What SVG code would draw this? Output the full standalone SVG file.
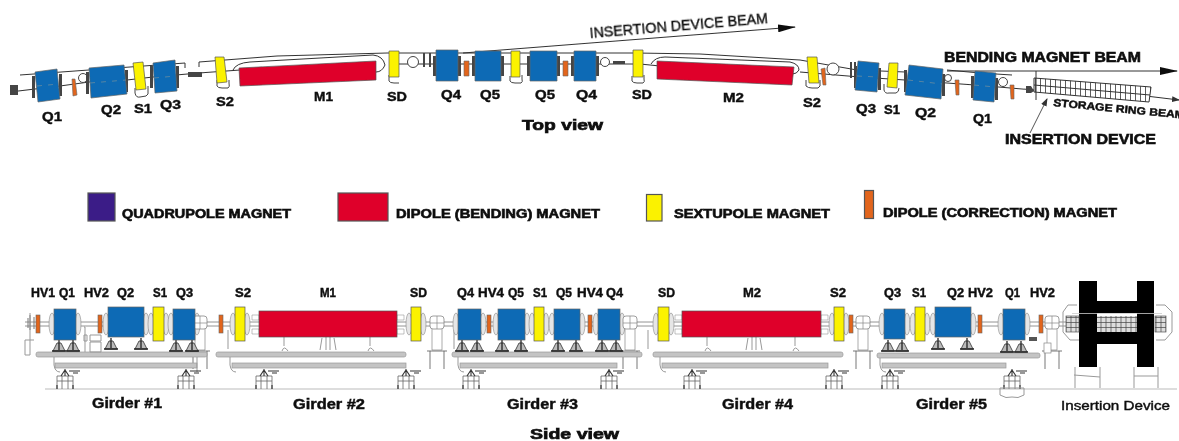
<svg xmlns="http://www.w3.org/2000/svg" width="1179" height="441" viewBox="0 0 1179 441">
<style>
text{font-family:"Liberation Sans",Arial,sans-serif;font-weight:700;fill:#111;stroke:#111;stroke-width:.45}
.l{font-size:13.500px}.s{font-size:12.500px}.g{font-size:14px}.h{font-size:12px;stroke-width:.6}.v{font-size:14.500px;stroke-width:.7}
.q{fill:#0a6bb5;stroke:#666;stroke-width:.7}.d{fill:#df0029;stroke:#555;stroke-width:.7}.y{fill:#fbf200;stroke:#555;stroke-width:.7}.o{fill:#e2651c;stroke:#666;stroke-width:.6}
.t{fill:none;stroke:#333;stroke-width:1}.m{fill:none;stroke:#999;stroke-width:1}.b{fill:none;stroke:#333;stroke-width:1.1}
.gb{fill:#c4c4c4;stroke:#999;stroke-width:.7}.p{fill:#fff;stroke:#444;stroke-width:1}.c{fill:#444}
.cl{fill:none;stroke:#6c8aa0;stroke-width:.8;stroke-dasharray:5 6}
</style>
<defs>
<marker id="ah" markerWidth="18" markerHeight="8" refX="17" refY="4" orient="auto" markerUnits="userSpaceOnUse"><path d="M0 0L18 4L0 8Z" fill="#111"/></marker>
<marker id="as" markerWidth="8" markerHeight="8" refX="7" refY="3" orient="auto" markerUnits="userSpaceOnUse"><path d="M0 0L8 3L0 6Z" fill="#333"/></marker>
<pattern id="hatch" width="5" height="6" patternUnits="userSpaceOnUse"><rect width="5" height="6" fill="#fff"/><path d="M.5 0V6" stroke="#333" stroke-width=".8"/></pattern>
<pattern id="idh" width="5" height="5" patternUnits="userSpaceOnUse"><rect width="5" height="5" fill="#ddd"/><path d="M1 0V5M0 2.500H5" stroke="#444" stroke-width=".7"/></pattern>
<filter id="soft" x="-2%" y="-2%" width="104%" height="104%"><feGaussianBlur stdDeviation=".3"/></filter>
<g id="jack"><path d="M-6 11L-2 3H2L6 11Z" fill="#bbb" stroke="#444" stroke-width=".9"/><path d="M-7 11H7M0 0V10" stroke="#222" stroke-width="1.300"/></g>
<g id="foot"><path d="M-8 20V7H8V20M-3 20V7M3 20V7M-8 12H8" fill="none" stroke="#666" stroke-width=".8"/><path d="M-8 16V20M8 16V20M0 0V7M-4 7L0 1L4 7" fill="none" stroke="#333" stroke-width="1.100"/><path d="M4 2H15M8 4H13" stroke="#333" stroke-width="1.100"/></g>
<g id="flange"><ellipse cx="0" cy="0" rx="3" ry="11" fill="#e6e6e6" stroke="#888" stroke-width=".6"/></g>
<g id="pump"><rect x="-7" y="-7" width="14" height="13" rx="3" fill="#fff" stroke="#777" stroke-width=".7"/><path d="M-7 0H7M0 -7V6M-5 6V27H5V6" fill="none" stroke="#888" stroke-width=".7"/><path d="M-7 28V46M7 28V46M-10 28H10" stroke="#555" stroke-width=".8"/></g>
</defs>
<rect width="1179" height="441" fill="#fff"/>
<g filter="url(#soft)">
<g id="connectors">
<path class="t" d="M463 53L795 27" marker-end="url(#ah)"/>
<path class="t" d="M947 71H1177" marker-end="url(#ah)"/>
<path class="t" d="M1146 96L1179 100" marker-end="url(#as)"/>
<path class="t" d="M1030 133L1047 99" marker-end="url(#as)" style="stroke:#555"/>
</g>
<g id="top-beamline">
<path class="b" d="M10 92L35 89L60 86L89 82L127 80L153 77L199 73L240 70M390 64L470 64L640 64L660 66M800 72L860 77L905 80L975 85L1034 90"/>
<path class="t" d="M20 75L185 63V68M199 67V62L277 56L387 53H636L700 54L800 60L857 70L905 72M947 70L980 73L1012 75"/>
<path class="t" d="M233 70Q236 63 250 62L373 55Q383 56 385 65Q382 72 376 72M651 64Q655 57 665 57L790 62Q799 64 799 70Q797 74 792 74"/>
<g fill="none" stroke="#444" stroke-width="1">
<path d="M135 88V93Q136 98 140 97L146 96Q149 95 148 90V86"/><path d="M217 80V86Q218 88 222 88H228Q230 87 229 83V80"/><path d="M389 75V81Q390 83 394 83H399"/><path d="M510 76V81Q511 83 515 83H521Q523 82 522 79V75"/><path d="M632 76V81Q633 83 637 83H643Q645 82 644 79V75"/><path d="M806 80V86Q808 88 812 88H818Q821 87 820 82V80"/><path d="M884 84V90Q885 94 889 93H896Q899 92 899 88"/>
</g>
<g class="p"><circle cx="83" cy="78" r="4.500"/><circle cx="413" cy="62" r="5.500"/><circle cx="605" cy="62" r="4.500"/><circle cx="833" cy="69" r="6"/><circle cx="948" cy="78" r="3.500"/><circle cx="1003" cy="82" r="4.500"/></g>
<g class="c"><path d="M10 85h8v10h-8zM188 72h14v5h-14zM423 53h2v14h-2zM429 53h2v14h-2zM1026 86h5l3 5-3 2h-5zM850 62h2v16h-2zM854 62h2v16h-2zM613 61h12v3h-12z"/>
<rect x="59" y="74" width="3" height="22"/><rect x="32" y="76" width="3" height="22"/><rect x="125" y="70" width="3" height="22"/><rect x="86" y="72" width="3" height="22"/><rect x="150" y="66" width="3" height="22"/><rect x="176" y="66" width="3" height="22"/><rect x="433" y="56" width="3" height="20"/><rect x="458" y="56" width="3" height="20"/><rect x="472" y="56" width="3" height="20"/><rect x="501" y="56" width="3" height="20"/><rect x="527" y="56" width="3" height="20"/><rect x="557" y="56" width="3" height="20"/><rect x="571" y="56" width="3" height="20"/><rect x="596" y="56" width="3" height="20"/><rect x="854" y="66" width="3" height="22"/><rect x="878" y="68" width="3" height="22"/><rect x="904" y="70" width="3" height="22"/><rect x="942" y="74" width="3" height="22"/><rect x="971" y="76" width="3" height="22"/><rect x="995" y="78" width="3" height="22"/></g>
</g>
<g id="top-Q1"><polygon class="q" points="35,72 57,69 60,99 38,102"/><path class="cl" d="M37 86L59 84"/></g>
<g id="top-HV1"><polygon class="o" points="72,79 75,79 77,95 73,96"/></g>
<g id="top-Q2"><polygon class="q" points="89,68 124,65 127,94 91,98"/><path class="cl" d="M90 83L126 80"/></g>
<g id="top-S1"><polygon class="y" points="133,63 143,62 146,89 136,90"/></g>
<g id="top-Q3"><polygon class="q" points="153,63 175,60 177,91 155,93"/><path class="cl" d="M154 78L176 76"/></g>
<g id="top-S2"><polygon class="y" points="215,57 224,57 227,82 217,83"/></g>
<g id="top-M1"><polygon class="d" points="239,68 376,61 376,80 240,86"/></g>
<g id="top-SD1"><polygon class="y" points="389,51 399,51 399,77 389,77"/></g>
<g id="top-Q4a"><polygon class="q" points="436,50 458,50 458,81 436,81"/></g>
<g id="top-HV4a"><polygon class="o" points="464,61 469,61 469,76 464,76"/></g>
<g id="top-Q5a"><polygon class="q" points="475,51 501,51 501,81 475,81"/></g>
<g id="top-S1b"><polygon class="y" points="511,51 520,51 520,77 511,77"/></g>
<g id="top-Q5b"><polygon class="q" points="530,51 557,51 557,81 530,81"/></g>
<g id="top-HV4b"><polygon class="o" points="563,61 568,61 568,76 563,76"/></g>
<g id="top-Q4b"><polygon class="q" points="574,51 596,51 596,81 574,81"/></g>
<g id="top-SD2"><polygon class="y" points="633,50 643,50 643,77 633,77"/></g>
<g id="top-M2"><polygon class="d" points="657,61 794,67 792,85 657,79"/></g>
<g id="top-S2b"><polygon class="y" points="807,57 817,57 819,83 809,83"/></g>
<g id="top-HVc"><polygon class="o" points="821,69 825,68 826,85 823,85"/></g>
<g id="top-Q3b"><polygon class="q" points="858,61 879,63 877,92 855,90"/><path class="cl" d="M857 76L878 77"/></g>
<g id="top-S1c"><polygon class="y" points="889,63 898,63 897,88 887,87"/></g>
<g id="top-Q2b"><polygon class="q" points="909,65 943,69 941,99 905,95"/><path class="cl" d="M908 80L942 84"/></g>
<g id="top-HVd"><polygon class="o" points="955,80 959,80 959,95 956,95"/></g>
<g id="top-Q1b"><polygon class="q" points="975,71 996,73 994,102 973,100"/><path class="cl" d="M974 85L995 87"/></g>
<g id="top-HVe"><polygon class="o" points="1010,85 1014,85 1014,99 1011,99"/></g>
<g id="top-ID"><polygon points="1034,78 1151,87 1149,102 1034,92" fill="url(#hatch)" stroke="#333"/><path class="t" d="M1034 85L1150 95M1036 71V100"/></g>

<g id="labels-top">
<text class="l" x="42" y="121" textLength="20" lengthAdjust="spacingAndGlyphs">Q1</text>
<text class="l" x="101" y="114" textLength="20" lengthAdjust="spacingAndGlyphs">Q2</text>
<text class="l" x="134" y="113" textLength="18" lengthAdjust="spacingAndGlyphs">S1</text>
<text class="l" x="160" y="109" textLength="21" lengthAdjust="spacingAndGlyphs">Q3</text>
<text class="l" x="216" y="106" textLength="18" lengthAdjust="spacingAndGlyphs">S2</text>
<text class="l" x="314" y="101" textLength="19" lengthAdjust="spacingAndGlyphs">M1</text>
<text class="l" x="387" y="101" textLength="20" lengthAdjust="spacingAndGlyphs">SD</text>
<text class="l" x="441" y="99" textLength="20" lengthAdjust="spacingAndGlyphs">Q4</text>
<text class="l" x="480" y="99" textLength="20" lengthAdjust="spacingAndGlyphs">Q5</text>
<text class="l" x="535" y="99" textLength="20" lengthAdjust="spacingAndGlyphs">Q5</text>
<text class="l" x="576" y="99" textLength="21" lengthAdjust="spacingAndGlyphs">Q4</text>
<text class="l" x="632" y="99" textLength="20" lengthAdjust="spacingAndGlyphs">SD</text>
<text class="l" x="723" y="102" textLength="21" lengthAdjust="spacingAndGlyphs">M2</text>
<text class="l" x="803" y="107" textLength="18" lengthAdjust="spacingAndGlyphs">S2</text>
<text class="l" x="856" y="113" textLength="20" lengthAdjust="spacingAndGlyphs">Q3</text>
<text class="l" x="884" y="114" textLength="16" lengthAdjust="spacingAndGlyphs">S1</text>
<text class="l" x="915" y="117" textLength="21" lengthAdjust="spacingAndGlyphs">Q2</text>
<text class="l" x="973" y="123" textLength="19" lengthAdjust="spacingAndGlyphs">Q1</text>
<text class="v" x="522" y="130" textLength="81" lengthAdjust="spacingAndGlyphs">Top view</text>
<text x="590" y="38" font-size="15" style="font-weight:400;stroke-width:.4" transform="rotate(-4.800 590 38)" textLength="179" lengthAdjust="spacingAndGlyphs">INSERTION DEVICE BEAM</text>
<text x="944" y="62" font-size="14" style="stroke-width:.6" textLength="197" lengthAdjust="spacingAndGlyphs">BENDING MAGNET BEAM</text>
<text x="1053" y="106" font-size="10.500" transform="rotate(5.500 1053 106)" textLength="132" lengthAdjust="spacingAndGlyphs">STORAGE RING BEAM</text>
<text x="1005" y="144" font-size="14" style="stroke-width:.6" textLength="151" lengthAdjust="spacingAndGlyphs">INSERTION DEVICE</text>
</g>

<g id="legend-quadrupole"><rect x="88" y="193" width="27" height="28" fill="#3a1f87" stroke="#555" stroke-width="1.200"/><text class="h" x="122" y="218" textLength="169" lengthAdjust="spacingAndGlyphs">QUADRUPOLE MAGNET</text></g>
<g id="legend-dipole"><rect x="338" y="193" width="50" height="28" fill="#df0029" stroke="#555" stroke-width="1.200"/><text class="h" x="396" y="218" textLength="204" lengthAdjust="spacingAndGlyphs">DIPOLE (BENDING) MAGNET</text></g>
<g id="legend-sextupole"><rect x="646.500" y="194.500" width="15.500" height="26.500" fill="#fbf200" stroke="#555" stroke-width="1.200"/><text class="h" x="674" y="218" textLength="156" lengthAdjust="spacingAndGlyphs">SEXTUPOLE MAGNET</text></g>
<g id="legend-correction"><rect x="864.500" y="190.500" width="9" height="28" fill="#e2651c" stroke="#555" stroke-width="1.200"/><text class="h" x="883" y="217" textLength="234" lengthAdjust="spacingAndGlyphs">DIPOLE (CORRECTION) MAGNET</text></g>

<g id="side-floor"><path d="M45 389H1177" stroke="#bbb" stroke-width="1" fill="none"/></g>
<g id="side-beamline"><path d="M25 322H1079M25 326H1079" stroke="#777" stroke-width=".8" fill="none"/><path d="M30 315V330M28 318V328M34 317V329" stroke="#777" fill="none"/><path class="m" d="M30 313V355H25V340H34M228 330V349M454 330V349M648 330V349" stroke-width=".7"/></g>
<g id="side-flanges">
<use href="#flange" x="52" y="324"/><use href="#flange" x="78" y="324"/><use href="#flange" x="106" y="324"/><use href="#flange" x="146" y="324"/><use href="#flange" x="151" y="324"/><use href="#flange" x="166" y="324"/><use href="#flange" x="171" y="324"/><use href="#flange" x="197" y="324"/><use href="#flange" x="233" y="324"/><use href="#flange" x="247" y="324"/><use href="#flange" x="409" y="324"/><use href="#flange" x="423" y="324"/><use href="#flange" x="456" y="324"/><use href="#flange" x="483" y="324"/><use href="#flange" x="496" y="324"/><use href="#flange" x="527" y="324"/><use href="#flange" x="532" y="324"/><use href="#flange" x="546" y="324"/><use href="#flange" x="552" y="324"/><use href="#flange" x="582" y="324"/><use href="#flange" x="596" y="324"/><use href="#flange" x="622" y="324"/><use href="#flange" x="656" y="324"/><use href="#flange" x="671" y="324"/><use href="#flange" x="832" y="324"/><use href="#flange" x="846" y="324"/><use href="#flange" x="882" y="324"/><use href="#flange" x="907" y="324"/><use href="#flange" x="913" y="324"/><use href="#flange" x="927" y="324"/><use href="#flange" x="933" y="324"/><use href="#flange" x="973" y="324"/><use href="#flange" x="1001" y="324"/><use href="#flange" x="1027" y="324"/>
<path d="M252 315h7v5h-7zM252 329h7v5h-7zM397 315h7v5h-7zM397 329h7v5h-7zM675 315h7v5h-7zM675 329h7v5h-7zM821 315h7v5h-7zM821 329h7v5h-7z" fill="#fff" stroke="#999" stroke-width=".6"/>
</g>
<g id="side-pumps"><use href="#pump" x="200" y="323"/><use href="#pump" x="437" y="323"/><use href="#pump" x="630" y="323"/><use href="#pump" x="863" y="323"/><use href="#pump" x="1052" y="323"/></g>

<g id="girder-1"><rect class="gb" x="36" y="352" width="171" height="5" rx="2"/><rect class="gb" x="55" y="363" width="142" height="5"/><path class="m" d="M54 357V365Q55 372 60 372M197 357V372" stroke-width=".7"/><use href="#jack" x="59" y="340"/><use href="#jack" x="73" y="340"/><use href="#jack" x="111" y="338"/><use href="#jack" x="141" y="338"/><use href="#jack" x="176" y="340"/><use href="#jack" x="192" y="340"/><use href="#foot" x="65" y="369"/><use href="#foot" x="186" y="369"/><path d="M84 327H85V352M84 335h3v6h-3zM90 335h11v6H90zM90 342h11v10H90z" class="m" stroke-width=".7"/></g>
<g id="girder-2"><rect class="gb" x="216" y="352" width="190" height="5" rx="2"/><rect class="gb" x="232" y="363" width="174" height="5"/><path class="m" d="M230 357V365Q231 372 236 372" stroke-width=".7"/><use href="#foot" x="264" y="369"/><use href="#foot" x="406" y="369"/><path class="m" d="M284 337V346M282 351Q284 345 288 351M370 337V346M368 351Q370 345 374 351M322 338L320 350M326 337V350M330 337V350M334 338L336 350" stroke-width=".9"/></g>
<g id="girder-3"><rect class="gb" x="452" y="352" width="190" height="5" rx="2"/><rect class="gb" x="460" y="363" width="157" height="5"/><path class="m" d="M458 357V365Q459 372 464 372" stroke-width=".7"/><use href="#jack" x="462" y="340"/><use href="#jack" x="477" y="340"/><use href="#jack" x="502" y="340"/><use href="#jack" x="521" y="340"/><use href="#jack" x="558" y="340"/><use href="#jack" x="576" y="340"/><use href="#jack" x="602" y="340"/><use href="#jack" x="616" y="340"/><use href="#foot" x="471" y="369"/><use href="#foot" x="609" y="369"/></g>
<g id="girder-4"><rect class="gb" x="653" y="352" width="190" height="5" rx="2"/><rect class="gb" x="662" y="363" width="166" height="5"/><path class="m" d="M660 357V365Q661 372 666 372" stroke-width=".7"/><use href="#foot" x="692" y="369"/><use href="#foot" x="834" y="369"/><path class="m" d="M707 337V346M705 351Q707 345 711 351M795 337V346M793 351Q795 345 799 351M748 338L746 350M752 337V350M756 337V350M760 338L762 350" stroke-width=".9"/></g>
<g id="girder-5"><rect class="gb" x="877" y="353" width="163" height="5" rx="2"/><rect class="gb" x="882" y="363" width="124" height="5"/><path class="m" d="M880 358V365Q881 372 886 372" stroke-width=".7"/><use href="#jack" x="888" y="340"/><use href="#jack" x="902" y="340"/><use href="#jack" x="938" y="338"/><use href="#jack" x="967" y="338"/><use href="#jack" x="1007" y="341"/><use href="#jack" x="1021" y="341"/><use href="#foot" x="890" y="369"/><use href="#foot" x="1012" y="369"/><path class="m" d="M1000 395Q1006 399 1012 397Q1018 399 1024 395V388H1000Z" stroke-width=".7"/><rect x="1029" y="337" width="8" height="4" fill="#555"/><rect x="1044" y="343" width="7" height="10" fill="#fff" stroke="#888" stroke-width=".7"/></g>

<g id="side-HV1"><rect class="o" x="36" y="315" width="4" height="18"/></g>
<g id="side-Q1"><rect class="q" x="54" y="309" width="22" height="31"/></g>
<g id="side-HV2"><rect class="o" x="98" y="315" width="4" height="18"/></g>
<g id="side-Q2"><rect class="q" x="108" y="307" width="36" height="30"/></g>
<g id="side-S1"><rect class="y" x="153" y="307" width="11" height="34"/></g>
<g id="side-Q3"><rect class="q" x="173" y="309" width="22" height="31"/></g>
<g id="side-HVa"><rect class="o" x="219" y="315" width="4" height="18"/></g>
<g id="side-S2"><rect class="y" x="235" y="307" width="10" height="34"/></g>
<g id="side-M1"><rect class="d" x="259" y="311" width="138" height="26"/></g>
<g id="side-SD"><rect class="y" x="411" y="307" width="10" height="34"/></g>
<g id="side-Q4"><rect class="q" x="458" y="309" width="23" height="31"/></g>
<g id="side-HV4"><rect class="o" x="487" y="315" width="4" height="18"/></g>
<g id="side-Q5"><rect class="q" x="498" y="309" width="27" height="31"/></g>
<g id="side-S1b"><rect class="y" x="534" y="307" width="10" height="34"/></g>
<g id="side-Q5b"><rect class="q" x="554" y="309" width="26" height="31"/></g>
<g id="side-HV4b"><rect class="o" x="588" y="315" width="4" height="18"/></g>
<g id="side-Q4b"><rect class="q" x="598" y="309" width="22" height="31"/></g>
<g id="side-SDb"><rect class="y" x="658" y="307" width="11" height="34"/></g>
<g id="side-M2"><rect class="d" x="682" y="311" width="139" height="26"/></g>
<g id="side-S2b"><rect class="y" x="834" y="307" width="10" height="34"/></g>
<g id="side-HVb"><rect class="o" x="849" y="315" width="4" height="18"/></g>
<g id="side-Q3b"><rect class="q" x="884" y="309" width="21" height="30"/></g>
<g id="side-S1c"><rect class="y" x="915" y="307" width="10" height="34"/></g>
<g id="side-Q2b"><rect class="q" x="935" y="307" width="36" height="30"/></g>
<g id="side-HV2b"><rect class="o" x="978" y="315" width="4" height="18"/></g>
<g id="side-Q1b"><rect class="q" x="1003" y="309" width="22" height="31"/></g>
<g id="side-HV2c"><rect class="o" x="1039" y="315" width="4" height="18"/></g>

<g id="side-insertion-device">
<rect x="1097" y="316" width="40" height="16" fill="url(#idh)"/>
<g fill="#000"><rect x="1079" y="281" width="18" height="86"/><rect x="1137" y="281" width="17" height="86"/><rect x="1097" y="301" width="40" height="12"/><rect x="1097" y="332" width="40" height="12"/></g>
<path d="M1072 313.500H1162" stroke="#ccc" stroke-width=".8"/>
<path class="m" d="M1077 305H1068L1063 312V332L1070 340H1079M1156 305H1165L1172 312V332L1165 340H1156" stroke-width=".8"/>
<rect x="1066" y="316" width="13" height="16" fill="url(#idh)" stroke="#555" stroke-width=".7"/><rect x="1155" y="316" width="11" height="16" fill="url(#idh)" stroke="#555" stroke-width=".7"/>
<path d="M1075 367V388M1100 367V388M1074 375L1100 377M1134 367V388M1158 367V388M1134 376H1158" class="m" stroke-width=".8"/>
</g>

<g id="labels-side">
<text class="s" x="31" y="297" textLength="24" lengthAdjust="spacingAndGlyphs">HV1</text>
<text class="s" x="59" y="297" textLength="16" lengthAdjust="spacingAndGlyphs">Q1</text>
<text class="s" x="84" y="297" textLength="25" lengthAdjust="spacingAndGlyphs">HV2</text>
<text class="s" x="117" y="297" textLength="17" lengthAdjust="spacingAndGlyphs">Q2</text>
<text class="s" x="153" y="297" textLength="14" lengthAdjust="spacingAndGlyphs">S1</text>
<text class="s" x="176" y="297" textLength="17" lengthAdjust="spacingAndGlyphs">Q3</text>
<text class="s" x="235" y="297" textLength="16" lengthAdjust="spacingAndGlyphs">S2</text>
<text class="s" x="320" y="297" textLength="16" lengthAdjust="spacingAndGlyphs">M1</text>
<text class="s" x="410" y="297" textLength="17" lengthAdjust="spacingAndGlyphs">SD</text>
<text class="s" x="457" y="297" textLength="17" lengthAdjust="spacingAndGlyphs">Q4</text>
<text class="s" x="478" y="297" textLength="26" lengthAdjust="spacingAndGlyphs">HV4</text>
<text class="s" x="508" y="297" textLength="16" lengthAdjust="spacingAndGlyphs">Q5</text>
<text class="s" x="533" y="297" textLength="14" lengthAdjust="spacingAndGlyphs">S1</text>
<text class="s" x="556" y="297" textLength="16" lengthAdjust="spacingAndGlyphs">Q5</text>
<text class="s" x="577" y="297" textLength="26" lengthAdjust="spacingAndGlyphs">HV4</text>
<text class="s" x="606" y="297" textLength="17" lengthAdjust="spacingAndGlyphs">Q4</text>
<text class="s" x="658" y="297" textLength="17" lengthAdjust="spacingAndGlyphs">SD</text>
<text class="s" x="743" y="297" textLength="18" lengthAdjust="spacingAndGlyphs">M2</text>
<text class="s" x="830" y="297" textLength="16" lengthAdjust="spacingAndGlyphs">S2</text>
<text class="s" x="884" y="297" textLength="17" lengthAdjust="spacingAndGlyphs">Q3</text>
<text class="s" x="912" y="297" textLength="14" lengthAdjust="spacingAndGlyphs">S1</text>
<text class="s" x="947" y="297" textLength="17" lengthAdjust="spacingAndGlyphs">Q2</text>
<text class="s" x="968" y="297" textLength="25" lengthAdjust="spacingAndGlyphs">HV2</text>
<text class="s" x="1005" y="297" textLength="15" lengthAdjust="spacingAndGlyphs">Q1</text>
<text class="s" x="1030" y="297" textLength="25" lengthAdjust="spacingAndGlyphs">HV2</text>
<text class="g" x="92" y="408" textLength="70" lengthAdjust="spacingAndGlyphs">Girder #1</text>
<text class="g" x="293" y="409" textLength="72" lengthAdjust="spacingAndGlyphs">Girder #2</text>
<text class="g" x="507" y="409" textLength="71" lengthAdjust="spacingAndGlyphs">Girder #3</text>
<text class="g" x="722" y="409" textLength="71" lengthAdjust="spacingAndGlyphs">Girder #4</text>
<text class="g" x="916" y="409" textLength="71" lengthAdjust="spacingAndGlyphs">Girder #5</text>
<text x="1061" y="410" font-size="13.500" style="font-weight:400;stroke-width:.45" textLength="109" lengthAdjust="spacingAndGlyphs">Insertion Device</text>
<text class="v" x="530" y="439" textLength="89" lengthAdjust="spacingAndGlyphs">Side view</text>
</g>
</g>
</svg>
